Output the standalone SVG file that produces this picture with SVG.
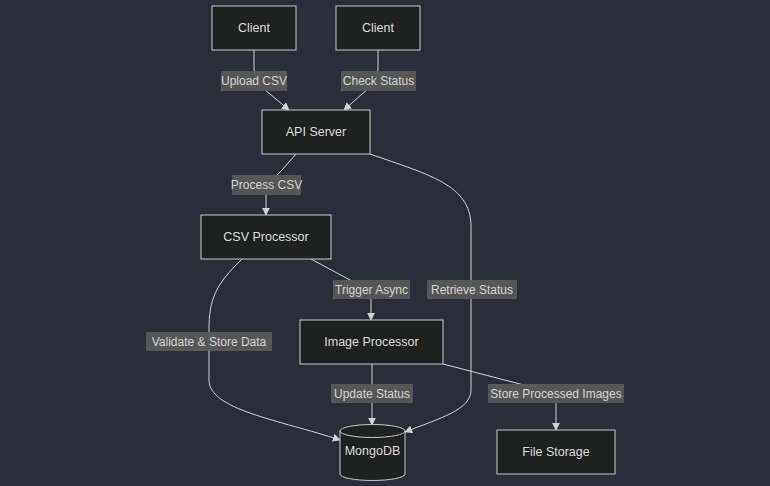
<svg xmlns="http://www.w3.org/2000/svg" width="770" height="486" viewBox="0 0 770 486">
<defs>
<style>
.node rect,.node path,.node ellipse{fill:#1f2020;stroke:#cccccc;stroke-width:1}
.node text{fill:#dcdcdc;font-family:"Liberation Sans",Arial,sans-serif;font-size:12.5px;text-anchor:middle;dominant-baseline:central}
.edge{fill:none;stroke:#d3d3d3;stroke-width:1}
.lbl rect{fill:#585858;opacity:0.95}
.lbl text{fill:#d4d4d4;font-family:"Liberation Sans",Arial,sans-serif;font-size:12px;text-anchor:middle;dominant-baseline:central}
</style>
<marker id="arr" viewBox="0 0 10 10" refX="9" refY="5" markerWidth="8" markerHeight="8" markerUnits="userSpaceOnUse" orient="auto">
<path d="M0,0 L10,5 L0,10 z" fill="#d3d3d3"/>
</marker>
</defs>
<rect width="770" height="486" fill="#2a2e3b"/>
<g id="connectors">
<path class="edge" d="M254,50 L254,68 C254,80 262,88 270,94 L289,110" marker-end="url(#arr)"/>
<path class="edge" d="M378,50 L378,68 C378,80 370,88 362,94 L344,110" marker-end="url(#arr)"/>
<path class="edge" d="M296,154 L282,170 C272,180 266,186 266,195 L266,215" marker-end="url(#arr)"/>
<path class="edge" d="M370,154 C430,175 470,185 471,225 L471,390 C471,410 440,418 405,432" marker-end="url(#arr)"/>
<path class="edge" d="M311,259 L350,280 C365,288 371,292 371,300 L371,320" marker-end="url(#arr)"/>
<path class="edge" d="M242,259 C215,285 209,300 209,330 L209,380 C209,410 280,420 340,440" marker-end="url(#arr)"/>
<path class="edge" d="M372,364 L372,425" marker-end="url(#arr)"/>
<path class="edge" d="M443,364 L520,384 C550,390 556,396 556,405 L556,430" marker-end="url(#arr)"/>
</g>
<g id="edge-labels">
<g class="lbl"><rect x="221" y="71" width="66" height="20"/><text x="254" y="81">Upload CSV</text></g>
<g class="lbl"><rect x="341" y="71" width="75" height="20"/><text x="378.5" y="81">Check Status</text></g>
<g class="lbl"><rect x="232" y="175" width="69" height="20"/><text x="266.5" y="185">Process CSV</text></g>
<g class="lbl"><rect x="333" y="280" width="77" height="19"/><text x="371.5" y="289.5">Trigger Async</text></g>
<g class="lbl"><rect x="427" y="280" width="90" height="19"/><text x="472" y="289.5">Retrieve Status</text></g>
<g class="lbl"><rect x="146" y="332" width="126" height="19"/><text x="209" y="341.5">Validate &amp; Store Data</text></g>
<g class="lbl"><rect x="331" y="384" width="82" height="19"/><text x="372" y="393.5">Update Status</text></g>
<g class="lbl"><rect x="488" y="384" width="136" height="19"/><text x="556" y="393.5">Store Processed Images</text></g>
</g>
<g id="client1" class="node"><rect x="212" y="6" width="84" height="44"/><text x="254" y="28">Client</text></g>
<g id="client2" class="node"><rect x="336" y="6" width="84" height="44"/><text x="378" y="28">Client</text></g>
<g id="api" class="node"><rect x="262" y="110" width="108" height="44"/><text x="316" y="132">API Server</text></g>
<g id="csv" class="node"><rect x="201" y="215" width="130" height="44"/><text x="266" y="237">CSV Processor</text></g>
<g id="image" class="node"><rect x="300" y="320" width="143" height="44"/><text x="371.5" y="342">Image Processor</text></g>
<g id="mongo" class="node"><path d="M340,431 A32.5,6.5 0 0 1 405,431 L405,474 A32.5,6.5 0 0 1 340,474 Z"/><path d="M340,431 A32.5,6.5 0 0 0 405,431" fill="none"/><text x="372.5" y="451">MongoDB</text></g>
<g id="storage" class="node"><rect x="497" y="430" width="118" height="44"/><text x="556" y="452">File Storage</text></g>
</svg>
